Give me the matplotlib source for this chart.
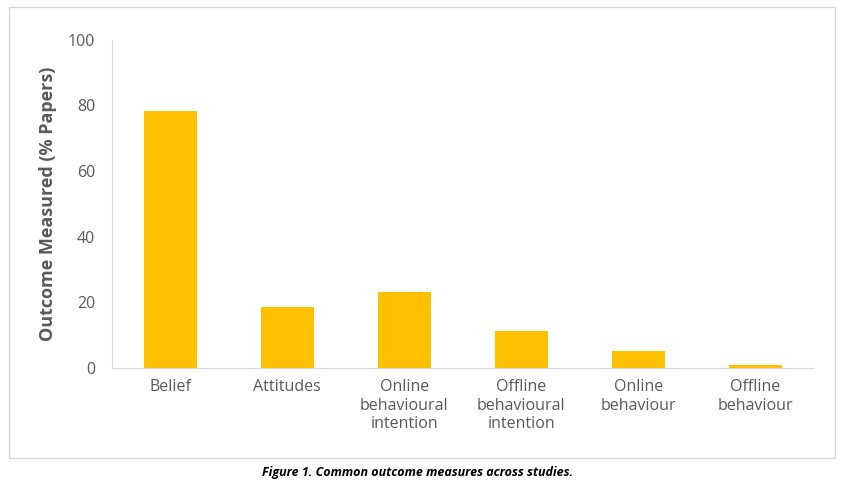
import matplotlib.pyplot as plt
from matplotlib.patches import Rectangle

categories = ['Belief', 'Attitudes', 'Online\nbehavioural\nintention',
              'Offline\nbehavioural\nintention', 'Online\nbehaviour', 'Offline\nbehaviour']
values = [78.2, 18.6, 23.2, 11.3, 5.2, 0.9]

plt.rcParams['font.family'] = ['Open Sans', 'DejaVu Sans']

fig = plt.figure(figsize=(8.53, 4.98), dpi=100)
ax = fig.add_axes([0.131, 0.261, 0.823, 0.659])

ax.bar(range(len(categories)), values, width=0.45, color='#FFC000')
ax.set_xlim(-0.5, len(categories) - 0.5)
ax.set_ylim(0, 100)
ax.set_yticks(range(0, 101, 20))
ax.set_xticks(range(len(categories)))
ax.set_xticklabels(categories, fontsize=11.5, color='#595959', linespacing=1.2)
ax.tick_params(axis='y', labelsize=11.5, colors='#595959', length=0, pad=12)
ax.tick_params(axis='x', length=0, pad=8)
ax.set_ylabel('Outcome Measured (% Papers)', fontsize=13, fontweight='bold', color='#595959', labelpad=8)

for s in ['top', 'right']:
    ax.spines[s].set_visible(False)
ax.spines['left'].set_color('#D9D9D9')
ax.spines['bottom'].set_color('#D9D9D9')

fig.patches.append(Rectangle((0.01, 0.08), 0.969, 0.905, transform=fig.transFigure,
                             fill=False, edgecolor='#D9D9D9', linewidth=1))
fig.text(0.49, 0.045, 'Figure 1. Common outcome measures across studies.',
         ha='center', fontsize=9, fontweight='bold', style='italic', color='black')

fig.savefig('out.png', dpi=100)
